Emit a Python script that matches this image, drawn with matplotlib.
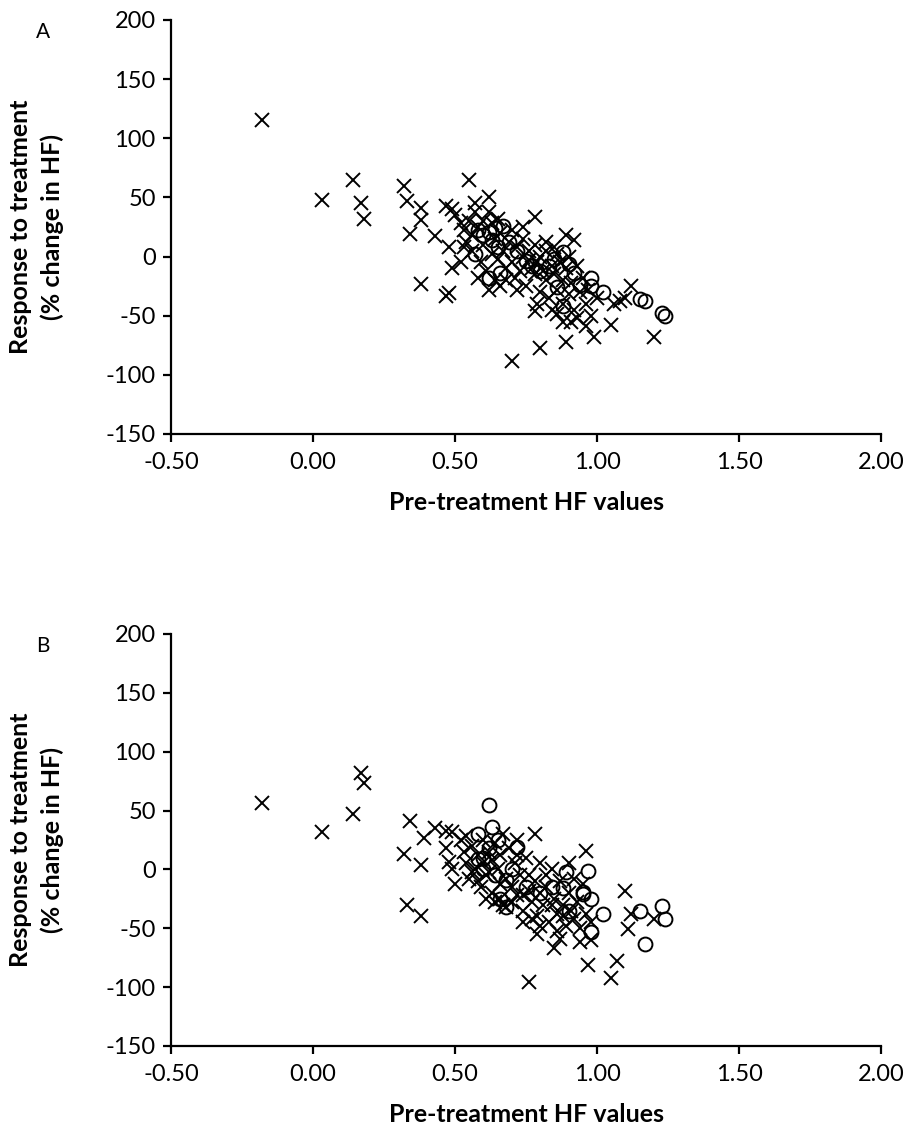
import matplotlib.pyplot as plt
import numpy as np

# panel A: crosses and circles (pre-treatment HF, % change)
a_x_cross = [-0.18, 0.03, 0.14, 0.17, 0.18, 0.32, 0.33, 0.38, 0.38, 0.34, 0.43, 0.38, 0.47, 0.49,
             0.48, 0.49, 0.48, 0.47, 0.55, 0.62, 0.78, 0.57, 0.89, 0.92, 1.12, 0.70, 0.80, 0.89,
             0.99, 1.05, 1.20, 1.08, 0.78, 0.86, 0.96, 0.91,
             0.50, 0.52, 0.53, 0.54, 0.55, 0.56, 0.56, 0.58, 0.59, 0.60, 0.60, 0.61, 0.62, 0.63,
             0.63, 0.64, 0.64, 0.65, 0.66, 0.66, 0.67, 0.68, 0.69, 0.70, 0.70, 0.71, 0.72, 0.73,
             0.74, 0.74, 0.75, 0.76, 0.76, 0.77, 0.78, 0.78, 0.79, 0.80, 0.80, 0.81, 0.82, 0.82,
             0.83, 0.84, 0.85, 0.85, 0.86, 0.87, 0.88, 0.88, 0.89, 0.90, 0.90, 0.91, 0.92, 0.93,
             0.94, 0.95, 0.96, 0.97, 0.98, 1.00, 1.10, 1.06, 0.52, 0.58, 0.62, 0.68, 0.72, 0.79,
             0.84, 0.88, 0.93, 0.53, 0.57, 0.65, 0.74, 0.82, 0.86]
a_y_cross = [115, 48, 65, 45, 32, 60, 47, 41, 31, 19, 17, -23, 43, 40,
             8, -10, -31, -33, 65, 50, 33, 38, 18, 14, -25, -88, -77, -72,
             -68, -58, -68, -38, -46, -49, -59, -55,
             35, 28, 22, 12, 30, 5, 18, 25, -5, 30, 10, -12, 38, 2,
             28, -20, 15, -2, 20, -25, 5, -10, 12, -5, 22, -18, 8, -12,
             0, 15, -25, -3, 5, -10, 10, -15, -5, 0, -30, -12, 5, -20,
             -35, -8, -15, 8, -28, -5, -20, -40, -10, 0, -32, -22, -45, -8,
             -30, -18, -40, -28, -50, -35, -35, -40, -5, -18, -28, -20, -28, -40,
             -45, -55, -52, 8, 45, 32, 25, 12, 2]
a_x_circ = [0.57, 0.58, 0.60, 0.62, 0.63, 0.64, 0.65, 0.67, 0.69, 0.62, 0.66, 0.72, 0.75, 0.77,
            0.80, 0.83, 0.85, 0.88, 0.90, 0.92, 0.94, 0.88, 0.86, 0.98, 0.98, 1.02, 1.15, 1.17,
            1.23, 1.24]
a_y_circ = [2, 22, 18, 21, 14, 24, 8, 26, 12, -18, -14, 5, -4, -8,
            -12, -8, -2, 4, -6, -14, -24, -42, -26, -18, -25, -30, -36, -38,
            -48, -50]

# panel B
b_x_cross = [-0.18, 0.03, 0.14, 0.17, 0.18, 0.34, 0.39, 0.32, 0.38, 0.33, 0.38, 0.43, 0.47, 0.49,
             0.47, 0.48, 0.49, 0.50, 0.76, 0.97, 1.05, 1.07, 0.85, 1.10, 1.11, 1.12, 1.20, 0.98,
             0.94, 0.79, 0.74, 0.87, 0.78, 0.96, 0.67, 0.72,
             0.52, 0.53, 0.54, 0.55, 0.56, 0.57, 0.58, 0.59, 0.60, 0.60, 0.61, 0.62, 0.63, 0.63,
             0.64, 0.65, 0.66, 0.66, 0.67, 0.68, 0.69, 0.70, 0.71, 0.72, 0.73, 0.74, 0.75, 0.76,
             0.77, 0.78, 0.79, 0.80, 0.80, 0.81, 0.82, 0.83, 0.84, 0.85, 0.86, 0.87, 0.88, 0.89,
             0.90, 0.90, 0.91, 0.92, 0.93, 0.94, 0.95, 0.96, 0.58, 0.62, 0.70, 0.76, 0.84, 0.88,
             0.54, 0.64, 0.72, 0.82, 0.92, 0.98, 0.66, 0.74, 0.86, 0.80, 0.56, 0.61, 0.68, 0.77]
b_y_cross = [56, 32, 47, 82, 73, 41, 27, 13, 4, -30, -40, 35, 33, 32,
             18, 6, 0, -12, -96, -81, -92, -78, -67, -18, -51, -38, -42, -60,
             -62, -55, -45, -59, 30, 16, 30, 25,
             25, 15, 5, -8, 20, 0, 12, -15, 25, 5, -5, 15, -20, 8,
             -28, 0, -25, 12, -30, -8, 18, -15, 5, -22, -5, -35, 10, -18,
             -28, -10, -40, -20, 5, -30, -15, -45, 0, -25, -38, -10, -30, -48,
             -20, 5, -35, -42, -28, -50, -12, -38, -10, -2, -28, -5, -30, -40,
             28, 22, 12, -5, -8, -45, -12, -22, -52, -48, -2, -25, -32, -42]
b_x_circ = [0.62, 0.63, 0.58, 0.72, 0.68, 0.68, 0.58, 0.60, 0.62, 0.65, 0.60, 0.64, 0.70, 0.75,
            0.80, 0.84, 0.89, 0.88, 0.95, 0.95, 0.97, 0.98, 0.98, 1.02, 1.15, 1.17, 1.23, 1.24,
            0.66, 0.90]
b_y_circ = [55, 36, 30, 19, -9, -32, 9, 10, 18, 25, 0, -5, 0, -15,
            -20, -15, -2, -16, -19, -21, -1, -25, -53, -38, -35, -63, -31, -42,
            -25, -35]

plt.rcParams['font.family'] = ['Lato', 'DejaVu Sans']
plt.rcParams['axes.unicode_minus'] = False

fig = plt.figure(figsize=(9.11, 11.39), dpi=100)

panels = [
    ("A", [0.1877, 0.619, 0.7794, 0.3635], a_x_cross, a_y_cross, a_x_circ, a_y_circ),
    ("B", [0.1877, 0.0817, 0.7794, 0.3617], b_x_cross, b_y_cross, b_x_circ, b_y_circ),
]

for letter, rect, xc, yc, xo, yo in panels:
    ax = fig.add_axes(rect)
    ax.plot(xc, yc, linestyle="none", marker="x", markersize=10,
            markeredgewidth=1.4, color="black")
    ax.plot(xo, yo, linestyle="none", marker="o", markersize=10,
            markeredgewidth=1.4, markerfacecolor="none", markeredgecolor="black")

    ax.set_xlim(-0.5, 2.0)
    ax.set_ylim(-150, 200)
    ax.set_xticks(np.arange(-0.5, 2.01, 0.5))
    ax.set_xticklabels([f"{v:.2f}" for v in np.arange(-0.5, 2.01, 0.5)])
    ax.set_yticks(np.arange(-150, 201, 50))

    for s in ["top", "right"]:
        ax.spines[s].set_visible(False)
    for s in ["left", "bottom"]:
        ax.spines[s].set_linewidth(1.6)
    ax.tick_params(direction="out", length=6, width=1.6, labelsize=17, pad=5)
    ax.tick_params(axis="x", pad=7)

    ax.set_xlabel("Pre-treatment HF values", fontsize=18, fontweight="bold", labelpad=13)
    ax.set_ylabel("Response to treatment\n(% change in HF)", fontsize=18,
                  fontweight="bold", labelpad=30, linespacing=1.45)
    ax.text(-0.18, 0.995, letter, transform=ax.transAxes, fontsize=15,
            ha="center", va="top")

fig.savefig("out.png", dpi=100)
